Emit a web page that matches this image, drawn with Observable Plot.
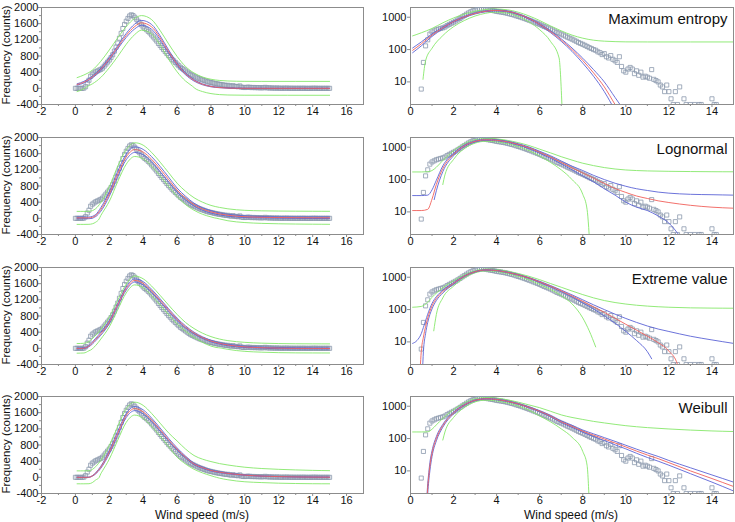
<!DOCTYPE html>
<html>
<head>
<meta charset="utf-8">
<script src="https://cdn.jsdelivr.net/npm/d3@7"></script>
<script src="https://cdn.jsdelivr.net/npm/@observablehq/plot@0.6"></script>
<style>
  html, body { margin: 0; padding: 0; background: #fff; }
  #chart { position: relative; width: 735px; height: 522px; background: #fff; overflow: hidden;
           font-family: 'Liberation Sans', Arial, sans-serif; color: #111; }
  #chart svg { position: absolute; }
  .ylab { position: absolute; font-size: 11.5px; line-height: 12px; white-space: nowrap; transform: translate(-50%, -50%) rotate(-90deg); }
  .xlab { position: absolute; font-size: 12px; line-height: 12px; white-space: nowrap; transform: translate(-50%, -50%); }
</style>
</head>
<body>
<div id="chart"></div>
<script>
// ---------- tick labels ----------
const leftXTicks = [-2, 0, 2, 4, 6, 8, 10, 12, 14, 16];
const leftXMinor = [-1, 1, 3, 5, 7, 9, 11, 13, 15];
const leftYTicks = [-400, 0, 400, 800, 1200, 1600, 2000];
const leftYMinor = [-200, 200, 600, 1000, 1400, 1800];
const rightXTicks = [0, 2, 4, 6, 8, 10, 12, 14];
const rightXMinor = [1, 3, 5, 7, 9, 11, 13];
const rightYTicks = [10, 100, 1000];

const modelNames = ["Maximum entropy", "Lognormal", "Extreme value", "Weibull"];
const yTitle = "Frequency (counts)";
const xTitle = "Wind speed (m/s)";

// ---------- observed histogram (wind speed bins, counts) ----------
const windSpeed = [
  0.0,0.1,0.2,0.3,0.4,0.5,0.6,0.7,0.8,0.9,
  1.0,1.1,1.2,1.3,1.4,1.5,1.6,1.7,1.8,1.9,
  2.0,2.1,2.2,2.3,2.4,2.5,2.6,2.7,2.8,2.9,
  3.0,3.1,3.2,3.3,3.4,3.5,3.6,3.7,3.8,3.9,
  4.0,4.1,4.2,4.3,4.4,4.5,4.6,4.7,4.8,4.9,
  5.0,5.1,5.2,5.3,5.4,5.5,5.6,5.7,5.8,5.9,
  6.0,6.1,6.2,6.3,6.4,6.5,6.6,6.7,6.8,6.9,
  7.0,7.1,7.2,7.3,7.4,7.5,7.6,7.7,7.8,7.9,
  8.0,8.1,8.2,8.3,8.4,8.5,8.6,8.7,8.8,8.9,
  9.0,9.1,9.2,9.3,9.4,9.5,9.6,9.7,9.8,9.9,
  10.0,10.1,10.2,10.3,10.4,10.5,10.6,10.7,10.8,10.9,
  11.0,11.1,11.2,11.3,11.4,11.5,11.6,11.7,11.8,11.9,
  12.0,12.1,12.2,12.3,12.4,12.5,12.6,12.7,12.8,12.9,
  13.0,13.1,13.2,13.3,13.4,13.5,13.6,13.7,13.8,13.9,
  14.0,14.1,14.2,14.3,14.4,14.5,14.6,14.7,14.8,14.9,
  15.0
];
const observedCount = [
  0,0,0,0,0,6,40,130,200,300,
  350,380,410,430,450,470,500,550,600,650,
  700,760,830,920,1020,1120,1240,1360,1480,1580,
  1660,1730,1790,1820,1800,1760,1710,1660,1620,1570,
  1520,1480,1450,1410,1370,1320,1270,1220,1170,1110,
  1060,1010,960,910,860,810,770,720,680,640,
  600,560,520,490,460,430,400,370,340,320,
  300,280,260,240,225,210,195,180,165,155,
  145,135,125,115,108,100,95,85,80,70,
  75,60,55,65,50,45,40,60,30,22,
  20,25,28,25,18,22,16,20,14,15,
  14,13,24,12,11,10,8,7,5,8,
  5,3,2,5,2,7,0,3,2,0,
  2,0,2,0,2,2,0,0,0,0,
  3,2,2,0,0,0,0,0,0,0,
  0
];

// ---------- Maximum entropy fit ----------
const meRed = [[0.1,95],[0.5,150],[1,280],[1.5,470],[2,730],[2.5,1020],[3,1310],[3.5,1530],[3.9,1620],[4.5,1520],[5,1250],[5.5,910],[6,600],[6.5,360],[7,197],[7.5,100],[8,46],[8.5,19],[9,7],[9.5,2],[10,0.6],[11,0.03],[12,0.001],[15,0]];
const meBlueHi = [[0.1,112],[0.5,172],[1,305],[1.5,500],[2,765],[2.5,1060],[3,1360],[3.5,1590],[3.9,1680],[4.5,1580],[5,1300],[5.5,950],[6,630],[6.5,385],[7,215],[7.5,112],[8,54],[8.5,24],[9,10],[9.5,3.3],[10,1.1],[11,0.1],[12,0.005],[15,0]];
const meBlueLo = [[0.1,80],[0.5,130],[1,255],[1.5,440],[2,695],[2.5,980],[3,1260],[3.5,1470],[3.9,1560],[4.5,1460],[5,1200],[5.5,870],[6,570],[6.5,335],[7,180],[7.5,88],[8,38],[8.5,15],[9,5],[9.5,1.3],[10,0.3],[11,0.01],[12,0],[15,0]];
const meGreenHi = [[0.1,265],[0.5,330],[1,450],[1.5,670],[2,950],[2.5,1250],[3,1530],[3.5,1730],[3.9,1800],[4.5,1700],[5,1430],[5.5,1100],[6,790],[6.5,540],[7,380],[7.5,280],[8,225],[8.5,195],[9,182],[9.5,176],[10,173],[11,172],[15,172]];
const meGreenLo = [[0.1,-80],[0.5,-10],[0.58,12],[0.7,45],[1,110],[1.5,270],[2,510],[2.5,790],[3,1090],[3.5,1330],[3.9,1440],[4.5,1340],[5,1070],[5.5,720],[6,410],[6.5,180],[6.9,55],[7.05,1],[7.5,-80],[8,-130],[8.5,-155],[9,-165],[10,-170],[15,-172]];

// ---------- Lognormal fit ----------
const lnRed = [[0.1,11],[0.5,11],[0.8,12],[1,25],[1.2,70],[1.5,220],[2,600],[2.5,1100],[3,1520],[3.5,1700],[4,1640],[4.5,1460],[5,1220],[5.5,960],[6,700],[6.5,500],[7,340],[7.5,230],[8,160],[8.5,110],[9,76],[9.5,53],[10,40],[10.5,31],[11,26],[11.5,22],[12,19.5],[13,16],[14,14],[15,13]];
const lnBlueHi = [[0.1,32],[0.5,32],[0.8,33],[1,48],[1.2,95],[1.5,265],[2,655],[2.5,1165],[3,1590],[3.5,1770],[4,1705],[4.5,1525],[5,1285],[5.5,1020],[6,750],[6.5,545],[7,375],[7.5,260],[8,190],[8.5,135],[9,100],[9.5,77],[10,62],[10.5,52],[11,46],[11.5,41],[12,38],[13,35],[14,34],[15,33]];
const lnBlueLo = [[0.1,-10],[0.5,-10],[0.8,-9],[1,-1],[1.1,24],[1.2,45],[1.5,175],[2,545],[2.5,1035],[3,1450],[3.5,1630],[4,1575],[4.5,1395],[5,1155],[5.5,900],[6,650],[6.5,455],[7,305],[7.5,200],[8,130],[8.5,85],[9,52],[9.5,33],[10,20],[10.5,14],[11,11],[11.5,7.5],[12,4.5],[12.5,1.8],[13,-1],[14,-4],[15,-6]];
const lnGreenHi = [[0.1,172],[0.5,172],[0.8,175],[1,190],[1.2,240],[1.5,390],[2,780],[2.5,1290],[3,1700],[3.5,1870],[4,1810],[4.5,1630],[5,1390],[5.5,1130],[6,870],[6.5,670],[7,510],[7.5,400],[8,320],[8.5,270],[9,235],[9.5,212],[10,198],[10.5,190],[11,185],[12,180],[13,177],[14,175],[15,174]];
const lnGreenLo = [[0.1,-150],[0.5,-150],[0.8,-148],[1,-135],[1.2,-95],[1.4,-15],[1.5,70],[1.6,140],[2,420],[2.5,910],[3,1340],[3.5,1530],[4,1470],[4.5,1290],[5,1050],[5.5,790],[6,540],[6.5,340],[7,200],[7.5,100],[8,35],[8.2,12],[8.35,0.5],[8.5,-15],[9,-60],[9.5,-88],[10,-105],[11,-125],[12,-135],[13,-141],[14,-145],[15,-148]];

// ---------- Extreme value fit ----------
const evRed = [[0.1,-3],[0.4,-1],[0.45,1.5],[0.5,5],[0.6,14],[0.7,30],[0.8,55],[1,130],[1.2,220],[1.5,360],[2,650],[2.5,1080],[3,1480],[3.5,1680],[4,1610],[4.5,1420],[5,1190],[5.5,950],[6,720],[6.5,530],[7,380],[7.5,265],[8,180],[8.5,122],[9,82],[9.5,54],[10,35],[10.5,23],[11,15],[11.5,9.5],[12,5.2],[12.4,2],[12.6,0.6],[13,-1],[14,-2.5],[15,-3]];
const evBlueHi = [[0.1,9],[0.3,11],[0.5,18],[0.6,28],[0.7,45],[0.8,72],[1,155],[1.2,250],[1.5,395],[2,690],[2.5,1120],[3,1520],[3.5,1720],[4,1650],[4.5,1460],[5,1225],[5.5,980],[6,750],[6.5,555],[7,400],[7.5,285],[8,200],[8.5,140],[9,100],[9.5,72],[10,53],[10.5,40],[11,31],[11.5,25],[12,21],[13,15],[14,11.5],[15,9]];
const evBlueLo = [[0.1,-15],[0.5,-8],[0.55,1],[0.6,5],[0.7,18],[0.8,40],[1,105],[1.2,190],[1.5,325],[2,610],[2.5,1040],[3,1440],[3.5,1640],[4,1570],[4.5,1380],[5,1155],[5.5,920],[6,690],[6.5,505],[7,360],[7.5,245],[8,160],[8.5,104],[9,64],[9.5,38],[10,21],[10.5,11],[11,5],[11.2,3],[11.3,-1],[12,-10],[13,-13],[14,-14],[15,-15]];
const evGreenHi = [[0.1,118],[0.5,125],[0.8,170],[1,240],[1.5,470],[2,770],[2.5,1190],[3,1590],[3.5,1790],[4,1720],[4.5,1540],[5,1310],[5.5,1070],[6,840],[6.5,640],[7,490],[7.5,375],[8,290],[8.5,230],[9,190],[9.5,165],[10,148],[11,128],[12,118],[13,113],[14,111],[15,110]];
const evGreenLo = [[0.1,-120],[0.5,-115],[0.8,-60],[1,-15],[1.08,22],[1.2,70],[1.5,230],[2,530],[2.5,960],[3,1370],[3.5,1570],[4,1500],[4.5,1300],[5,1070],[5.5,830],[6,600],[6.5,420],[7,270],[7.5,150],[8,55],[8.3,22],[8.6,7],[8.7,-3],[9,-25],[9.5,-55],[10,-75],[11,-95],[12,-107],[13,-112],[14,-114],[15,-115]];

// ---------- Weibull fit ----------
const wbRed = [[0.1,0],[0.7,0],[0.75,0.8],[0.8,3],[0.85,7],[0.9,14],[1,35],[1.2,100],[1.5,250],[2,620],[2.5,1090],[3,1530],[3.5,1700],[4,1620],[4.5,1420],[5,1180],[5.5,930],[6,700],[6.5,500],[7,330],[7.5,240],[8,170],[8.5,128],[9,97],[9.5,73],[10,55],[10.5,41],[11,31],[11.5,24],[12,18],[13,10],[14,5.8],[15,3.3]];
const wbBlueHi = [[0.1,0],[0.7,0],[0.75,1.2],[0.8,4],[0.85,9],[0.9,18],[1,42],[1.2,115],[1.5,275],[2,660],[2.5,1140],[3,1580],[3.5,1750],[4,1670],[4.5,1465],[5,1220],[5.5,965],[6,730],[6.5,525],[7,350],[7.5,258],[8,184],[8.5,140],[9,107],[9.5,82],[10,62],[10.5,47],[11,36],[11.5,28],[12,21],[13,12.5],[14,7.5],[15,4.5]];
const wbBlueLo = [[0.1,0],[0.7,0],[0.75,0.5],[0.8,2],[0.85,5],[0.9,10],[1,28],[1.2,85],[1.5,225],[2,580],[2.5,1040],[3,1480],[3.5,1650],[4,1570],[4.5,1375],[5,1140],[5.5,895],[6,670],[6.5,475],[7,310],[7.5,222],[8,156],[8.5,116],[9,87],[9.5,64],[10,48],[10.5,35],[11,26],[11.5,20],[12,15],[13,8.2],[14,4.5],[15,2.4]];
const wbGreenHi = [[0.1,160],[0.5,160],[0.8,162],[1,195],[1.2,265],[1.5,420],[2,790],[2.5,1260],[3,1700],[3.5,1860],[4,1780],[4.5,1580],[5,1340],[5.5,1100],[6,900],[6.5,700],[7,540],[7.5,450],[8,390],[8.5,340],[9,305],[9.5,275],[10,250],[10.5,232],[11,218],[12,198],[13,183],[14,172],[15,165]];
const wbGreenLo = [[0.1,-160],[0.5,-160],[0.8,-158],[1,-130],[1.2,-65],[1.4,-5],[1.5,90],[1.6,160],[2,450],[2.5,920],[3,1360],[3.5,1540],[4,1460],[4.5,1260],[5,1020],[5.5,760],[6,500],[6.5,330],[7,200],[7.5,110],[8,40],[8.2,15],[8.32,0.5],[8.5,-20],[9,-60],[9.5,-90],[10,-110],[11,-130],[12,-145],[13,-153],[14,-158],[15,-160]];

// ---------- styling ----------
const obsColor = "#8b99ad";
const redColor = "#f0605a";
const blueColor = "#5b63d6";
const greenColor = "#86e86a";
const axisGray = "#8c8c8c";
const textColor = "#111";

const fits = [
  {red: meRed, blueHi: meBlueHi, blueLo: meBlueLo, greenHi: meGreenHi, greenLo: meGreenLo},
  {red: lnRed, blueHi: lnBlueHi, blueLo: lnBlueLo, greenHi: lnGreenHi, greenLo: lnGreenLo},
  {red: evRed, blueHi: evBlueHi, blueLo: evBlueLo, greenHi: evGreenHi, greenLo: evGreenLo},
  {red: wbRed, blueHi: wbBlueHi, blueLo: wbBlueLo, greenHi: wbGreenHi, greenLo: wbGreenLo}
];

const observed = windSpeed.map((s, i) => ({speed: s, count: observedCount[i]}));
const observedPositive = observed.filter(d => d.count > 0);
const positiveOnly = arr => arr.map(([x, y]) => [x, y > 0 ? y : NaN]);
const fmt = d => String(d);
const rowTops = [7, 137, 267, 396];
const style = {fontFamily: "'Liberation Sans', Arial, sans-serif", fontSize: "11px", color: textColor, background: "transparent", overflow: "visible"};

function fitLines(f, log) {
  const t = log ? positiveOnly : (a => a);
  const opt = (stroke) => ({x: d => d[0], y: d => d[1], stroke, strokeWidth: 0.9, curve: "monotone-x", clip: true});
  return [
    Plot.line(t(f.greenHi), opt(greenColor)),
    Plot.line(t(f.greenLo), opt(greenColor)),
    Plot.line(t(f.blueHi), opt(blueColor)),
    Plot.line(t(f.blueLo), opt(blueColor)),
    Plot.line(t(f.red), opt(redColor))
  ];
}

function leftPanel(f) {
  return Plot.plot({
    width: 368, height: 124, marginLeft: 41, marginRight: 5, marginTop: 7, marginBottom: 20,
    x: {domain: [-2, 17]}, y: {domain: [-400, 2000]},
    style,
    marks: [
      Plot.axisX({ticks: leftXMinor, tickSize: 2, tickFormat: () => "", label: null, stroke: axisGray}),
      Plot.axisY({ticks: leftYMinor, tickSize: 2, tickFormat: () => "", label: null, stroke: axisGray}),
      Plot.axisX({ticks: leftXTicks, tickSize: 3, tickPadding: 0, tickFormat: fmt, label: null, stroke: axisGray, fill: textColor}),
      Plot.axisY({ticks: leftYTicks, tickSize: 3, tickPadding: 0, tickFormat: fmt, label: null, stroke: axisGray, fill: textColor}),
      Plot.frame({stroke: axisGray}),
      Plot.dot(observed, {x: "speed", y: "count", symbol: "square", r: 2.3, stroke: obsColor, strokeWidth: 0.8, fill: "none"}),
      ...fitLines(f, false)
    ]
  });
}

function rightPanel(f, name) {
  return Plot.plot({
    width: 365, height: 124, marginLeft: 40, marginRight: 2, marginTop: 7, marginBottom: 20,
    x: {domain: [0, 15]}, y: {type: "log", domain: [2, 2000]},
    style,
    marks: [
      Plot.axisX({ticks: rightXMinor, tickSize: 2, tickFormat: () => "", label: null, stroke: axisGray}),
      Plot.axisX({ticks: rightXTicks, tickSize: 3, tickPadding: 0, tickFormat: fmt, label: null, stroke: axisGray, fill: textColor}),
      Plot.axisY({ticks: rightYTicks, tickSize: 3, tickPadding: 1, tickFormat: fmt, label: null, stroke: axisGray, fill: textColor}),
      Plot.frame({stroke: axisGray}),
      Plot.dot(observedPositive, {x: "speed", y: "count", symbol: "square", r: 2.3, stroke: obsColor, strokeWidth: 0.8, fill: "none", clip: true}),
      ...fitLines(f, true),
      Plot.text([name], {text: d => d, frameAnchor: "top-right", dx: -6, dy: 6, lineAnchor: "top", textAnchor: "end", fontSize: 15, fill: textColor})
    ]
  });
}

const chart = document.getElementById("chart");
fits.forEach((f, i) => {
  const top = rowTops[i] - 7;
  const l = leftPanel(f);
  l.style.left = "0px"; l.style.top = top + "px";
  chart.appendChild(l);
  const r = rightPanel(f, modelNames[i]);
  r.style.left = "370px"; r.style.top = top + "px";
  chart.appendChild(r);
  const yl = document.createElement("div");
  yl.className = "ylab";
  yl.textContent = yTitle;
  yl.style.left = "6px";
  yl.style.top = (rowTops[i] + 48) + "px";
  chart.appendChild(yl);
});
[202, 571].forEach(cx => {
  const d = document.createElement("div");
  d.className = "xlab";
  d.textContent = xTitle;
  d.style.left = cx + "px";
  d.style.top = "515px";
  chart.appendChild(d);
});
</script>
</body>
</html>
